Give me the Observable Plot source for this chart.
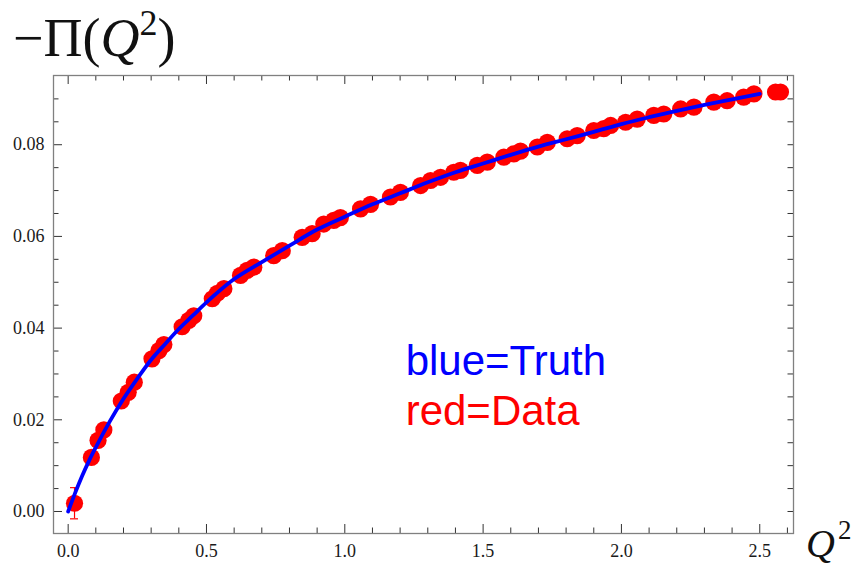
<!DOCTYPE html>
<html><head><meta charset="utf-8">
<script src="https://cdn.jsdelivr.net/npm/d3@7"></script>
<script src="https://cdn.jsdelivr.net/npm/@observablehq/plot@0.6"></script>
<style>body{margin:0;background:#fff}#chart{width:864px;height:567px}</style>
</head><body><div id="chart"></div>
<script>
// Data points (Q^2, -Pi(Q^2), error)
const dataQ2 = [0.023, 0.084, 0.108, 0.129, 0.192, 0.217, 0.239, 0.303, 0.328, 0.346, 0.412, 0.436, 0.454, 0.521, 0.539, 0.563, 0.623, 0.647, 0.671, 0.743, 0.774, 0.846, 0.882, 0.924, 0.960, 0.984, 1.057, 1.093, 1.165, 1.201, 1.274, 1.310, 1.346, 1.394, 1.418, 1.479, 1.515, 1.575, 1.611, 1.635, 1.696, 1.732, 1.804, 1.840, 1.900, 1.936, 1.961, 2.015, 2.057, 2.117, 2.153, 2.214, 2.262, 2.334, 2.382, 2.442, 2.479, 2.557, 2.575];
const dataPi = [0.0018, 0.0118, 0.0155, 0.0178, 0.0241, 0.0260, 0.0282, 0.0333, 0.0351, 0.0364, 0.0403, 0.0417, 0.0427, 0.0464, 0.0476, 0.0486, 0.0515, 0.0526, 0.0533, 0.0558, 0.0569, 0.0598, 0.0606, 0.0627, 0.0635, 0.0641, 0.0660, 0.0670, 0.0686, 0.0696, 0.0711, 0.0722, 0.0729, 0.0740, 0.0744, 0.0755, 0.0762, 0.0773, 0.0780, 0.0786, 0.0795, 0.0805, 0.0813, 0.0820, 0.0831, 0.0835, 0.0842, 0.0849, 0.0856, 0.0864, 0.0867, 0.0878, 0.0882, 0.0893, 0.0896, 0.0904, 0.0911, 0.0915, 0.0915];
const dataErr = [0.0034, 0.0010, 0.0010, 0.0010, 0.0010, 0.0010, 0.0010, 0.0010, 0.0010, 0.0010, 0.0010, 0.0010, 0.0010, 0.0010, 0.0010, 0.0010, 0.0010, 0.0010, 0.0010, 0.0010, 0.0010, 0.0010, 0.0010, 0.0010, 0.0010, 0.0010, 0.0010, 0.0010, 0.0010, 0.0010, 0.0010, 0.0010, 0.0010, 0.0010, 0.0010, 0.0010, 0.0010, 0.0010, 0.0010, 0.0010, 0.0010, 0.0010, 0.0010, 0.0010, 0.0010, 0.0010, 0.0010, 0.0010, 0.0010, 0.0010, 0.0010, 0.0010, 0.0010, 0.0010, 0.0010, 0.0010, 0.0010, 0.0010, 0.0010];

// Truth curve samples
const truthQ2 = [0, 0.025, 0.05, 0.075, 0.1, 0.15, 0.2, 0.25, 0.3, 0.35, 0.4, 0.45, 0.5, 0.6, 0.7, 0.8, 0.9, 1.0, 1.1, 1.2, 1.3, 1.4, 1.5, 1.6, 1.7, 1.8, 1.9, 2.0, 2.1, 2.2, 2.3, 2.4, 2.5];
const truthPi = [0, 0.0040, 0.0077, 0.0110, 0.0140, 0.0196, 0.0246, 0.0290, 0.0331, 0.0365, 0.0398, 0.0427, 0.0456, 0.0507, 0.0544, 0.0580, 0.0615, 0.0643, 0.0670, 0.0694, 0.0718, 0.0740, 0.0759, 0.0778, 0.0796, 0.0812, 0.0828, 0.0845, 0.0860, 0.0874, 0.0887, 0.0899, 0.0911];

// Ticks
const xMajorTicks = [0, 0.5, 1.0, 1.5, 2.0, 2.5];
const xMinorTicks = [0.1, 0.2, 0.3, 0.4, 0.6, 0.7, 0.8, 0.9, 1.1, 1.2, 1.3, 1.4, 1.6, 1.7, 1.8, 1.9, 2.1, 2.2, 2.3, 2.4, 2.6];
const yMajorTicks = [0, 0.02, 0.04, 0.06, 0.08];
const yMinorTicks = [0.005, 0.01, 0.015, 0.025, 0.03, 0.035, 0.045, 0.05, 0.055, 0.065, 0.07, 0.075, 0.085, 0.09];
const legendLabels = ["blue=Truth", "red=Data"];
const legendColors = ["#0000ff", "#ff0000"];

const W = 864, H = 567, mL = 53, mR = 71, mT = 75, mB = 34;
const innerW = W - mL - mR, innerH = H - mT - mB;
const majorLen = 9, minorLen = 5.5;
const serif = "'Liberation Serif', 'Times New Roman', serif";

const data = dataQ2.map((x, i) => ({x, y: dataPi[i], e: dataErr[i]}));
const truth = truthQ2.map((x, i) => ({x, y: truthPi[i]}));
const capHalf = 0.0145;
const tickColor = "#333";

const plot = Plot.plot({
  width: W, height: H,
  marginLeft: mL, marginRight: mR, marginTop: mT, marginBottom: mB,
  style: {fontFamily: serif, fontSize: "18px", background: "#fff", overflow: "visible"},
  x: {domain: [-0.053, 2.622]},
  y: {domain: [-0.0048, 0.0951]},
  marks: [
    Plot.axisX(xMajorTicks, {anchor: "bottom", tickSize: 0, tickPadding: 11, tickFormat: d3.format(".1f"), fill: "#1a1a1a", fontSize: 18, fontFamily: serif, label: null}),
    Plot.axisY(yMajorTicks, {anchor: "left", tickSize: 0, tickPadding: 9, tickFormat: d3.format(".2f"), fill: "#1a1a1a", fontSize: 18, fontFamily: serif, label: null}),
    // bottom & top ticks
    Plot.tickX(xMajorTicks, {x: d => d, insetTop: innerH - majorLen, stroke: tickColor}),
    Plot.tickX(xMajorTicks, {x: d => d, insetBottom: innerH - majorLen, stroke: tickColor}),
    Plot.tickX(xMinorTicks, {x: d => d, insetTop: innerH - minorLen, stroke: tickColor}),
    Plot.tickX(xMinorTicks, {x: d => d, insetBottom: innerH - minorLen, stroke: tickColor}),
    // left & right ticks
    Plot.tickY(yMajorTicks, {y: d => d, insetRight: innerW - majorLen, stroke: tickColor}),
    Plot.tickY(yMinorTicks, {y: d => d, insetRight: innerW - minorLen, stroke: tickColor}),
    Plot.tickY(yMajorTicks.concat(yMinorTicks), {y: d => d, insetLeft: innerW - minorLen, stroke: tickColor}),
    Plot.frame({stroke: "#808080", strokeWidth: 1.3}),
    // error bars
    Plot.ruleX(data, {x: "x", y1: d => d.y - d.e, y2: d => d.y + d.e, stroke: "#ff0000", strokeWidth: 1.2}),
    Plot.ruleY(data, {y: d => d.y + d.e, x1: d => d.x - capHalf, x2: d => d.x + capHalf, stroke: "#ff0000", strokeWidth: 1.2}),
    Plot.ruleY(data, {y: d => d.y - d.e, x1: d => d.x - capHalf, x2: d => d.x + capHalf, stroke: "#ff0000", strokeWidth: 1.2}),
    Plot.dot(data, {x: "x", y: "y", r: 8.6, fill: "#ff0000", stroke: "none"}),
    Plot.line(truth, {x: "x", y: "y", stroke: "#0000ff", strokeWidth: 3.8, curve: "monotone-x"}),
    Plot.text(legendLabels, {
      x: () => 1.22, y: (d, i) => [0.0297, 0.0188][i], text: d => d,
      fill: (d, i) => legendColors[i], textAnchor: "start", lineAnchor: "bottom",
      fontFamily: "'Liberation Sans', Arial, sans-serif", fontSize: 42
    })
  ]
});

const svg = d3.select(plot);
// force serif tick labels (numeric texts only)
svg.selectAll("text").each(function () {
  if (/^\d\.\d+$/.test(this.textContent.trim())) {
    this.style.fontFamily = "Liberation Serif, Times New Roman, serif";
    this.style.fontSize = "18px";
  }
});

const lab = svg.append("text")
  .attr("x", 13).attr("y", 56).attr("text-anchor", "start")
  .style("text-anchor", "start")
  .style("font-family", serif).style("font-size", "54px").attr("fill", "#111");
lab.append("tspan").text("\u2212\u03A0(");
lab.append("tspan").style("font-style", "italic").text("Q");
lab.append("tspan").style("font-size", "36px").attr("dy", -21).text("2");
lab.append("tspan").attr("dy", 21).text(")");

const labx = svg.append("text")
  .attr("x", 806).attr("y", 557).attr("text-anchor", "start")
  .style("text-anchor", "start")
  .style("font-family", serif).style("font-size", "40px").attr("fill", "#111");
labx.append("tspan").style("font-style", "italic").text("Q");
labx.append("tspan").style("font-size", "27px").attr("dx", 3).attr("dy", -18).text("2");

document.getElementById("chart").appendChild(plot);
</script>
</body></html>
